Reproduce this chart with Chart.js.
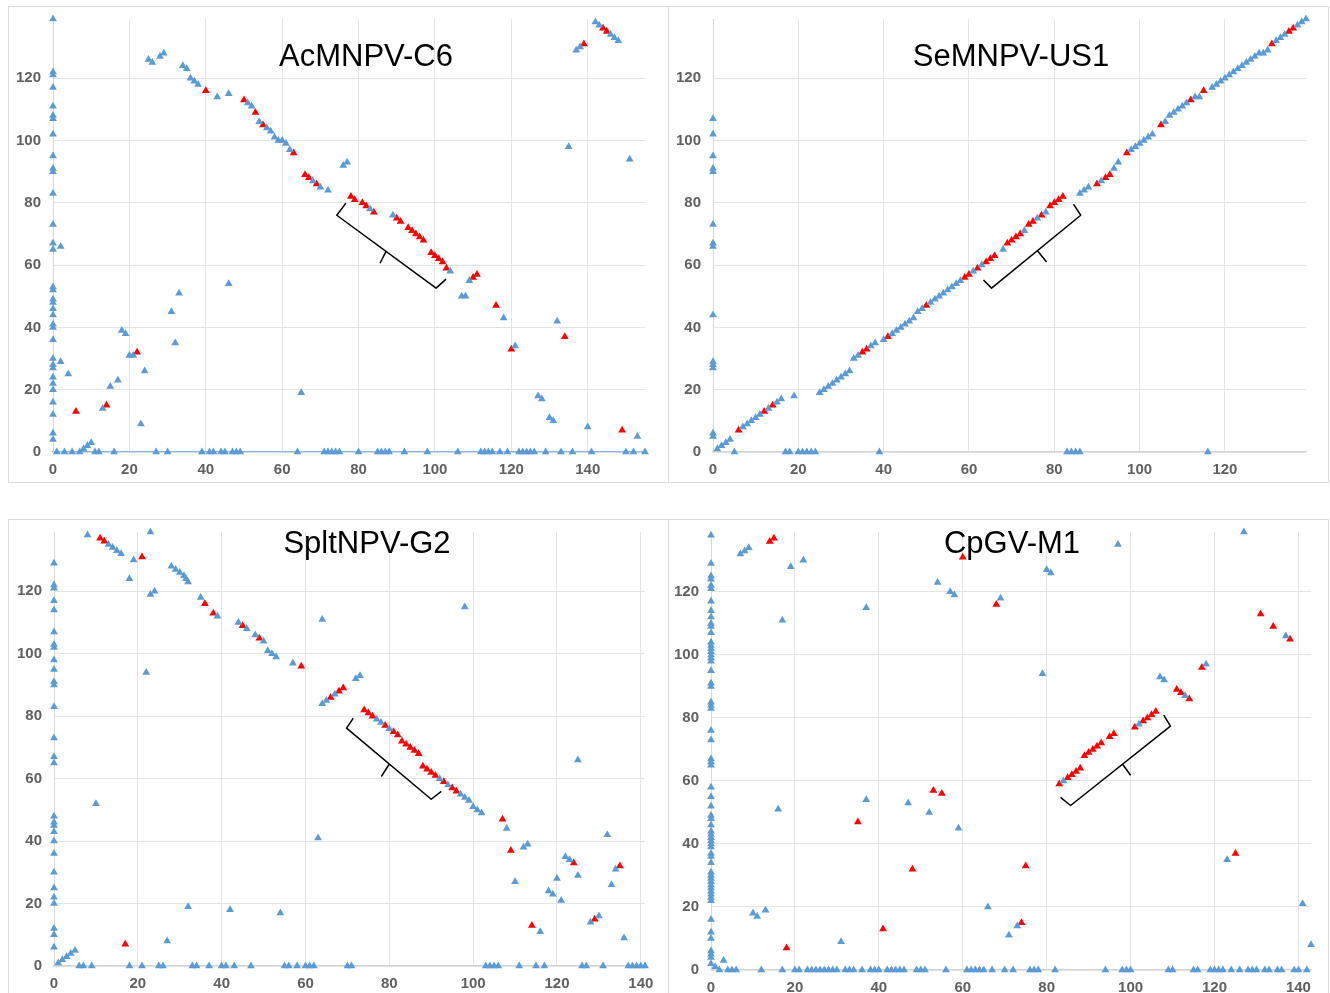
<!DOCTYPE html>
<html>
<head>
<meta charset="utf-8">
<script src="https://cdn.jsdelivr.net/npm/chart.js@4"></script>
<style>
  body { margin: 0; background: #fff; width: 1330px; height: 993px; overflow: hidden; }
  .panel { position: absolute; box-sizing: border-box; border: 1px solid #dcdcdc; background: #fff; }
  .panel canvas { display: block; }
</style>
</head>
<body>
<div class="panel" id="p1" style="left:8px;top:6px;width:661px;height:477px"><canvas id="c1"></canvas></div>
<div class="panel" id="p2" style="left:668px;top:6px;width:661px;height:477px"><canvas id="c2"></canvas></div>
<div class="panel" id="p3" style="left:8px;top:519px;width:661px;height:480px"><canvas id="c3"></canvas></div>
<div class="panel" id="p4" style="left:668px;top:519px;width:661px;height:480px"><canvas id="c4"></canvas></div>
<script>
// ---- data: gene position in genome A (x) vs genome B (y) ----
const titles = ["AcMNPV-C6", "SeMNPV-US1", "SpltNPV-G2", "CpGV-M1"];
const xMax = [155, 139, 141, 143];
const yMax = [139, 139, 139, 139];
const tickStep = 20;

const acAxisY = [139, 122, 121, 117, 111, 108, 107, 102, 95, 91, 90, 83, 73, 67, 65, 53, 52, 49, 48, 46, 44, 41, 40, 36, 30, 28, 27, 24, 22, 20, 16, 12, 6, 4];
const acZeroX = [1, 3, 5, 7, 11, 12, 16, 27, 30, 39, 41, 42, 44, 45, 47, 48, 49, 64, 71, 72, 73, 74, 75, 80, 85, 86, 87, 88, 92, 98, 106, 112, 113, 114, 115, 117, 119, 122, 123, 124, 125, 126, 129, 133, 136, 141, 150, 152, 155];
const acBlue = [[2, 66], [2, 29], [4, 25], [8, 1], [9, 2], [10, 3], [13, 14], [15, 21], [17, 23], [18, 39], [19, 38], [20, 31], [21, 31], [23, 9], [24, 26], [31, 45], [32, 35], [33, 51], [46, 54], [65, 19],
  [25, 126], [26, 125], [28, 127], [29, 128], [34, 124], [35, 123], [36, 120], [37, 119], [38, 118], [43, 114], [46, 115], [51, 112], [52, 111], [54, 106], [56, 104], [57, 103], [58, 101], [59, 100], [60, 100], [61, 99], [62, 97], [68, 87], [70, 85], [72, 84],
  [76, 92], [77, 93], [83, 78], [89, 76], [104, 58], [109, 55], [107, 50], [108, 50], [118, 43], [121, 34], [132, 42], [127, 18], [128, 17], [130, 11], [131, 10], [140, 8], [153, 5], [135, 98], [151, 94],
  [137, 129], [138, 130], [142, 138], [143, 137], [146, 134], [147, 133], [148, 132]];
const acRed = [[6, 13], [14, 15], [22, 32], [40, 116], [50, 113], [53, 109], [55, 105], [63, 96], [66, 89], [67, 88], [69, 86], [78, 82], [79, 81], [81, 80], [82, 79], [84, 77], [90, 75], [91, 74], [93, 72], [94, 71], [95, 70], [96, 69], [97, 68],
  [99, 64], [100, 63], [101, 62], [102, 61], [103, 59], [110, 56], [111, 57], [116, 47], [120, 33], [134, 37], [149, 7], [139, 131], [144, 136], [145, 135]];

const seAxisY = [107, 102, 95, 91, 90, 73, 67, 66, 44, 29, 28, 27, 6, 5];
const seZeroX = [5, 17, 18, 20, 21, 22, 23, 24, 39, 83, 84, 85, 86, 116];
const seBlue = [[1, 1], [2, 2], [3, 3], [4, 4], [7, 8], [8, 9], [9, 10], [10, 11], [11, 12], [13, 14], [15, 16], [16, 17], [19, 18],
  [25, 19], [26, 20], [27, 21], [28, 22], [29, 23], [30, 24], [31, 25], [32, 26], [33, 30], [34, 31], [37, 34], [38, 35], [40, 36], [42, 38], [43, 39], [44, 40], [45, 41], [46, 42], [47, 43], [48, 45], [49, 46],
  [51, 48], [52, 49], [53, 50], [54, 51], [55, 52], [56, 53], [57, 54], [58, 55], [61, 58], [63, 60], [68, 65], [73, 71], [76, 75], [78, 77],
  [86, 83], [87, 84], [88, 85], [91, 87], [94, 91], [95, 93], [98, 97], [99, 98], [100, 99], [101, 100], [102, 101], [103, 102], [106, 106], [107, 108], [108, 109], [109, 110], [110, 111], [111, 112], [113, 114], [114, 114],
  [117, 117], [118, 118], [119, 119], [120, 120], [121, 121], [122, 122], [123, 123], [124, 124], [125, 125], [126, 126], [127, 127], [128, 128], [129, 128], [130, 129], [132, 132], [133, 133], [134, 134], [137, 137], [138, 138], [139, 139]];
const seRed = [[6, 7], [12, 13], [14, 15], [35, 32], [36, 33], [41, 37], [50, 47], [59, 56], [60, 57], [62, 59], [64, 61], [65, 62], [66, 63], [69, 67], [70, 68], [71, 69], [72, 70], [74, 73], [75, 74], [77, 76], [79, 79], [80, 80], [81, 81], [82, 82],
  [90, 86], [92, 88], [93, 89], [97, 96], [105, 105], [112, 113], [115, 116], [131, 131], [135, 135], [136, 136]];

const spAxisY = [129, 122, 121, 117, 114, 107, 103, 102, 98, 95, 91, 90, 83, 73, 67, 65, 48, 46, 45, 43, 40, 36, 30, 25, 22, 20, 12, 10, 6];
const spZeroX = [6, 7, 9, 18, 21, 25, 26, 33, 34, 37, 40, 41, 43, 47, 55, 56, 58, 60, 61, 62, 70, 71, 103, 104, 105, 106, 111, 115, 117, 126, 127, 131, 137, 138, 139, 140, 141];
const spBlue = [[1, 1], [2, 2], [3, 3], [4, 4], [5, 5], [8, 138], [10, 52], [13, 135], [14, 134], [15, 133], [16, 132], [18, 124], [19, 130], [22, 94], [23, 139], [23, 119], [24, 120],
  [28, 128], [29, 127], [30, 126], [31, 125], [31.5, 124], [32, 123], [35, 118], [39, 112], [44, 110], [46, 108], [48, 106], [50, 104], [51, 101], [52, 100], [53, 99], [57, 97], [64, 111], [63, 41], [64, 84], [65, 85], [67, 87], [72, 92], [73, 93],
  [32, 19], [27, 8], [42, 18], [54, 17], [77, 79], [78, 78], [80, 76], [92, 60], [94, 58], [97, 55], [98, 54], [99, 53], [100, 51], [101, 50], [102, 49], [108, 44], [112, 38], [113, 39], [110, 27], [98, 115],
  [125, 66], [132, 42], [122, 35], [123, 34], [125, 29], [120, 28], [118, 24], [119, 23], [121, 21], [116, 11], [128, 14], [130, 16], [133, 26], [134, 31], [136, 9]];
const spRed = [[17, 7], [11, 137], [12, 136], [21, 131], [36, 116], [38, 113], [45, 109], [49, 105], [59, 96], [66, 86], [68, 88], [69, 89], [74, 82], [75, 81], [76, 80], [79, 77], [81, 75], [82, 74], [83, 72], [84, 71], [85, 70], [86, 69], [87, 68],
  [88, 64], [89, 63], [90, 62], [91, 61], [93, 59], [95, 57], [96, 56], [107, 47], [109, 37], [124, 33], [114, 13], [129, 15], [135, 32]];

const cpAxisY = [138, 129, 125, 124, 122, 121, 117, 114, 112, 110, 109, 107, 104, 103, 102, 101, 100, 99, 98, 95, 91, 90, 85, 84, 83, 76, 73, 67, 66, 65, 58, 55, 52, 49, 48, 46, 44, 43, 42, 41, 40, 39, 37, 36, 34, 31, 30, 29, 28, 27, 26, 25, 24, 23, 22, 16, 12, 10, 6, 5, 4, 2];
const cpZeroX = [2, 4, 5, 6, 12, 17, 20, 21, 23, 24, 25, 26, 27, 28, 29, 30, 32, 33, 34, 36, 38, 39, 40, 42, 43, 44, 45, 46, 49, 50, 51, 56, 61, 62, 63, 64, 65, 67, 70, 72, 76, 77, 78, 82, 94, 98, 99, 100, 109, 110, 115, 116, 119, 120, 121, 122, 124, 126, 128, 129, 130, 132, 133, 135, 136, 139, 140, 142];
const cpBlue = [[1, 1], [3, 3], [7, 132], [8, 133], [9, 134], [19, 128], [22, 130], [17, 111], [37, 115], [16, 51], [10, 18], [11, 17], [13, 19], [31, 9], [37, 54], [47, 53], [52, 50], [59, 45], [54, 123], [57, 120], [58, 119], [66, 20], [69, 118],
  [79, 94], [80, 127], [81, 126], [97, 135], [127, 139], [71, 11], [73, 14], [84, 60], [102, 78], [107, 93], [108, 92], [113, 87], [118, 97], [137, 106], [123, 35], [141, 21], [143, 8]];
const cpRed = [[14, 136], [15, 137], [18, 7], [35, 47], [41, 13], [48, 32], [53, 57], [55, 56], [60, 131], [68, 116], [74, 15], [75, 33], [83, 59], [85, 61], [86, 62], [87, 63], [88, 64], [89, 68], [90, 69], [91, 70], [92, 71], [93, 72], [95, 74], [96, 75],
  [101, 77], [103, 79], [104, 80], [105, 81], [106, 82], [111, 89], [112, 88], [114, 86], [117, 96], [131, 113], [134, 109], [138, 105], [125, 37]];

// bracket annotations, in data units: hook, corner, corner, hook, then cusp -> tip
const brackets = [
  [[76.7, 79.9], [74.3, 76], [100.3, 52.6], [102.9, 55.5], [87.2, 64.4], [85.6, 60.6]],
  [[84.5, 79.6], [86.2, 76], [65.3, 52.6], [63.4, 55.2], [76.1, 64.5], [78.2, 61]],
  [[71.4, 79.4], [69.8, 76.2], [90, 53.4], [92.4, 55.9], [80, 64.7], [78.1, 60.7]],
  [[107.9, 80.9], [109.5, 77.4], [85.7, 52.2], [83.3, 54.8], [98.1, 65.3], [100, 61.8]]
];

const panels = [
  { canvas: "c1", axisY: acAxisY, zeroX: acZeroX, blue: acBlue, red: acRed },
  { canvas: "c2", axisY: seAxisY, zeroX: seZeroX, blue: seBlue, red: seRed },
  { canvas: "c3", axisY: spAxisY, zeroX: spZeroX, blue: spBlue, red: spRed },
  { canvas: "c4", axisY: cpAxisY, zeroX: cpZeroX, blue: cpBlue, red: cpRed }
];

// ---- layout ----
const layoutBox = [
  { left: 44, top: 12, right: 23, axisH: 30, titleX: 357, titleY: 59, baseColor: "#8db7de" },
  { left: 44, top: 12, right: 22, axisH: 30, titleX: 342, titleY: 59, baseColor: "#d4d4d4" },
  { left: 45, top: 12, right: 23, axisH: 32, titleX: 358, titleY: 33, baseColor: "#d4d4d4" },
  { left: 42, top: 12, right: 17, axisH: 28, titleX: 343, titleY: 33, baseColor: "#d4d4d4" }
];

const blueColor = "#5b9bd5";
const redColor = "#ff0000";
const gridColor = "#e4e4e4";
const tickFont = { family: "'Liberation Sans', Arial, sans-serif", size: 15, weight: "bold" };

const toPoints = (pairs) => pairs.map(([x, y]) => ({ x, y }));

const overlayPlugin = {
  id: "panelOverlay",
  afterDatasetsDraw(chart) {
    const { ctx, scales } = chart;
    const o = chart.options.plugins.panelOverlay;
    const br = o.bracket;
    const px = (p) => [scales.x.getPixelForValue(p[0]), scales.y.getPixelForValue(p[1])];
    ctx.save();
    ctx.strokeStyle = "#000";
    ctx.lineWidth = 1.5;
    ctx.lineJoin = "round";
    ctx.beginPath();
    br.slice(0, 4).forEach((p, i) => {
      const [x, y] = px(p);
      if (i === 0) ctx.moveTo(x, y); else ctx.lineTo(x, y);
    });
    const [mx, my] = px(br[4]);
    const [tx, ty] = px(br[5]);
    ctx.moveTo(mx, my);
    ctx.lineTo(tx, ty);
    ctx.stroke();

    ctx.fillStyle = "#000";
    ctx.font = "31px 'Liberation Sans', Arial, sans-serif";
    ctx.textAlign = "center";
    ctx.textBaseline = "alphabetic";
    ctx.fillText(o.title, o.titleX, o.titleY);
    ctx.restore();
  }
};

const renderPanel = (panel, i) => {
  const box = layoutBox[i];
  const blue = [
    ...panel.axisY.map((y) => ({ x: 0, y })),
    ...panel.zeroX.map((x) => ({ x, y: 0 })),
    ...toPoints(panel.blue)
  ];
  new Chart(document.getElementById(panel.canvas), {
    type: "scatter",
    data: {
      datasets: [
        { data: blue, backgroundColor: blueColor, pointStyle: "triangle", pointRadius: 4.5, borderWidth: 0, clip: false },
        { data: toPoints(panel.red), backgroundColor: redColor, pointStyle: "triangle", pointRadius: 4.5, borderWidth: 0, clip: false }
      ]
    },
    options: {
      responsive: true,
      maintainAspectRatio: false,
      animation: false,
      events: [],
      layout: { padding: { left: 0, top: box.top, right: box.right, bottom: 0 } },
      plugins: {
        legend: { display: false },
        tooltip: { enabled: false },
        panelOverlay: { title: titles[i], titleX: box.titleX, titleY: box.titleY, bracket: brackets[i] }
      },
      scales: {
        x: {
          type: "linear",
          min: 0,
          max: xMax[i],
          afterFit(scale) { scale.height = box.axisH; },
          ticks: { stepSize: tickStep, includeBounds: false, padding: 9, maxRotation: 0, color: "#606060", font: tickFont },
          grid: { color: gridColor, drawTicks: false },
          border: { color: box.baseColor, width: 1.3 }
        },
        y: {
          type: "linear",
          min: 0,
          max: yMax[i],
          afterFit(scale) { scale.width = box.left; },
          // label offset comes from an invisible tick mark so it does not eat into the plot height
          ticks: { stepSize: tickStep, includeBounds: false, padding: 0, color: "#606060", font: tickFont },
          grid: { color: gridColor, drawTicks: true, tickLength: 12, tickColor: "rgba(0,0,0,0)" },
          border: { color: "#d8d8d8" }
        }
      }
    },
    plugins: [overlayPlugin]
  });
};

panels.forEach(renderPanel);
</script>
</body>
</html>
